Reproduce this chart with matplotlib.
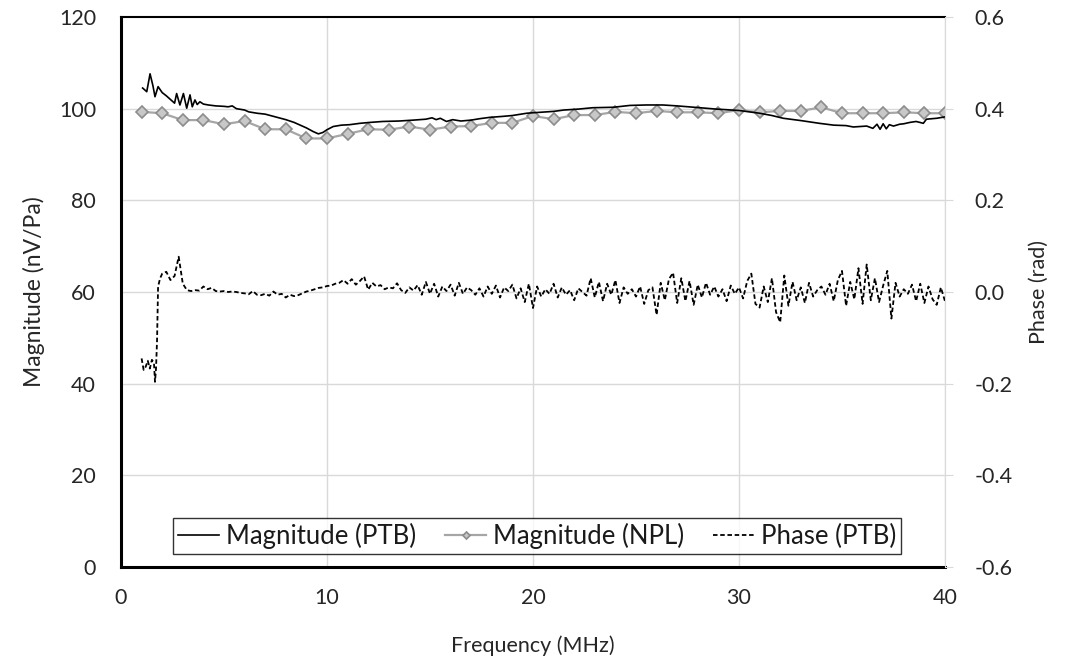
import numpy as np
from matplotlib import pyplot as plt

plt.rcParams['font.family'] = ['Lato', 'DejaVu Sans']

# PTB magnitude (nV/Pa)
ptb_freq = [1.05, 1.25, 1.41, 1.55, 1.65, 1.8, 2.0, 2.2, 2.4, 2.6, 2.7, 2.86,
            3.03, 3.19, 3.35, 3.46, 3.59, 3.7, 3.83, 4.0, 4.24, 4.6, 5.0, 5.2,
            5.4, 5.6, 6.0, 6.2, 6.6, 7.0, 7.5, 8.0, 8.4, 8.7, 9.0, 9.33, 9.58,
            9.8, 10.0, 10.3, 10.7, 11.1, 11.6, 12.1, 12.7, 13.5, 14.2, 14.8,
            15.1, 15.3, 15.5, 15.8, 16.1, 16.5, 17.0, 17.4, 17.9, 18.5, 19.0,
            19.7, 20.0, 21.0, 21.5, 22.2, 22.9, 23.9, 24.7, 25.5, 26.3, 27.0,
            28.1, 28.9, 30.0, 31.0, 31.6, 32.15, 33.0, 33.9, 34.6, 35.2, 35.55,
            36.2, 36.5, 36.7, 36.85, 37.0, 37.15, 37.3, 37.5, 37.8, 38.0, 38.3,
            38.6, 38.95, 39.1, 39.6, 40.0]
ptb_mag = [104.5, 103.7, 107.6, 105.0, 102.6, 104.8, 103.5, 102.8, 102.0, 101.2,
           103.3, 100.8, 103.3, 100.1, 103.0, 100.4, 101.9, 100.9, 101.5, 101.0,
           100.8, 100.6, 100.5, 100.4, 100.6, 100.0, 99.7, 99.3, 99.0, 98.8,
           98.2, 97.6, 97.0, 96.4, 95.8, 95.0, 94.5, 94.8, 95.4, 96.1, 96.4,
           96.5, 96.8, 97.0, 97.2, 97.3, 97.5, 97.7, 98.0, 97.6, 97.9, 97.2,
           97.6, 97.3, 97.5, 97.8, 98.1, 98.3, 98.5, 99.0, 99.1, 99.4, 99.7,
           99.9, 100.2, 100.3, 100.7, 100.8, 100.8, 100.6, 100.2, 99.9, 99.6,
           99.0, 98.5, 97.9, 97.4, 96.8, 96.4, 96.3, 96.0, 96.2, 95.7, 96.6,
           95.5, 96.7, 95.6, 96.5, 96.2, 96.6, 96.7, 97.0, 97.2, 96.8, 97.7,
           97.9, 98.2]

# NPL magnitude, one point per MHz
npl_freq = list(range(1, 41))
npl_mag = [99.3, 99.0, 97.5, 97.5, 96.6, 97.3, 95.5, 95.5, 93.5, 93.5,
           94.5, 95.5, 95.4, 96.1, 95.4, 96.1, 96.2, 96.9, 96.9, 98.4,
           97.7, 98.6, 98.6, 99.3, 99.0, 99.5, 99.2, 99.2, 99.0, 99.7,
           99.2, 99.5, 99.5, 100.3, 99.0, 99.0, 99.0, 99.2, 99.0, 99.0]

# PTB phase (rad)
phase_freq_start = [1.0, 1.1, 1.2, 1.3, 1.4, 1.5, 1.6, 1.65, 1.7, 1.75, 1.8, 1.9, 2.0]
phase_start = [-0.145, -0.17, -0.163, -0.15, -0.167, -0.148, -0.155, -0.196,
               -0.167, -0.105, 0.012, 0.030, 0.040]
phase_rest = [
    # 2.2 - 3.2
    0.044, 0.026, 0.035, 0.077, 0.018, 0.004,
    # 3.4 - 9.0
    0.002, 0.004, 0.003, 0.012, 0.006, 0.009, 0.002, 0.001, 0.002, 0.0,
    0.001, 0.0, -0.002, -0.003, -0.005, 0.002, -0.006, -0.007, -0.004, -0.008,
    0.001, -0.006, -0.004, -0.012, -0.006, -0.009, -0.007, -0.003, 0.001,
    # 9.2 - 13.4
    0.003, 0.006, 0.009, 0.010, 0.013, 0.014, 0.018, 0.020, 0.026, 0.018,
    0.028, 0.016, 0.024, 0.034, 0.005, 0.020, 0.012, 0.015, 0.006, 0.010,
    0.008, 0.019,
    # 13.6 - 20.0
    0.004, -0.002, 0.010, 0.003, 0.015, -0.006, 0.022, -0.004, 0.018, -0.010,
    0.012, 0.002, 0.016, -0.008, 0.020, -0.004, 0.010, 0.004, -0.006, 0.008,
    -0.010, 0.012, -0.004, 0.014, -0.012, 0.010, 0.002, 0.016, -0.014, 0.008,
    -0.022, 0.018, -0.035,
    # 20.2 - 26.0
    0.012, -0.010, 0.006, -0.004, 0.018, -0.012, 0.010, -0.006, 0.004, -0.018,
    0.008, 0.000, -0.008, 0.030, -0.012, 0.022, -0.020, 0.018, -0.006, 0.026,
    -0.024, 0.010, -0.004, 0.006, -0.010, 0.012, -0.026, 0.004, 0.010, -0.050,
    # 26.2 - 32.0
    0.020, -0.018, 0.028, 0.042, -0.024, 0.030, -0.020, 0.024, -0.028, 0.016,
    -0.012, 0.020, -0.006, 0.012, -0.010, 0.006, -0.020, 0.014, -0.004, 0.010,
    -0.014, 0.024, 0.040, -0.026, -0.034, 0.012, -0.022, 0.030, -0.044, -0.066,
    # 32.2 - 40.0
    0.036, -0.030, 0.022, -0.018, 0.010, -0.024, 0.020, -0.010, 0.004, 0.012,
    -0.006, 0.018, -0.020, 0.026, 0.046, -0.030, 0.022, -0.016, 0.052, -0.026,
    0.060, -0.018, 0.030, -0.022, 0.014, 0.046, -0.058, 0.020, -0.010, 0.006,
    -0.004, 0.016, -0.020, 0.018, -0.024, 0.012, -0.016, -0.028, 0.010, -0.020,
]
phase_freq = phase_freq_start + list(np.round(np.arange(2.2, 40.01, 0.2), 1))
phase = phase_start + phase_rest

fig = plt.figure(figsize=(10.68, 6.71), dpi=100)
ax = fig.add_axes([0.1133, 0.155, 0.7715, 0.8197])
ax2 = ax.twinx()

grid_c = '#d9d9d9'
for x in [10, 20, 30, 40]:
    ax.axvline(x, color=grid_c, lw=1, zorder=0)
for y in [20, 40, 60, 80, 100]:
    ax.axhline(y, color=grid_c, lw=1, zorder=0)

l1, = ax.plot(ptb_freq, ptb_mag, color='black', lw=1.2, label='Magnitude (PTB)', zorder=3)
l2, = ax.plot(npl_freq, npl_mag, color='#a6a6a6', lw=1.6, marker='D', ms=6,
              mfc='#c8c8c8', mec='#8c8c8c', mew=1.2, label='Magnitude (NPL)', zorder=2)
l3, = ax2.plot(phase_freq, phase, color='black', lw=1.3, ls=(0, (2.5, 1.5)),
               label='Phase (PTB)', zorder=3)

ax.set_xlim(0, 40)
ax.set_ylim(0, 120)
ax2.set_ylim(-0.6, 0.6)
ax.set_xticks([0, 10, 20, 30, 40])
ax.set_yticks([0, 20, 40, 60, 80, 100, 120])
ax2.set_yticks([-0.6, -0.4, -0.2, 0.0, 0.2, 0.4, 0.6])
ax2.set_yticklabels(['-0.6', '-0.4', '-0.2', '0.0', '0.2', '0.4', '0.6'])

for a in (ax, ax2):
    for s in a.spines.values():
        s.set_visible(False)
ax.spines['left'].set_visible(True)
ax.spines['bottom'].set_visible(True)
ax.spines['top'].set_visible(True)
ax.spines['left'].set_linewidth(2.2)
ax.spines['bottom'].set_linewidth(2.2)
ax.spines['top'].set_linewidth(1.5)
ax2.spines['right'].set_visible(True)
ax2.spines['right'].set_color(grid_c)

ax.tick_params(axis='both', length=0, labelsize=15.5, colors='#262626')
ax.tick_params(axis='y', pad=18)
ax.tick_params(axis='x', pad=15)
ax2.tick_params(axis='y', length=6, color=grid_c, labelsize=15.5, labelcolor='#262626', pad=15)

ax.set_xlabel('Frequency (MHz)', fontsize=15.5, labelpad=20, color='#262626')
ax.set_ylabel('Magnitude (nV/Pa)', fontsize=16.5, labelpad=10, color='#262626')
ax2.set_ylabel('Phase (rad)', fontsize=15.5, labelpad=12, color='#262626')

leg = ax2.legend(handles=[l1, l2, l3], loc='lower center', bbox_to_anchor=(0.505, 0.0),
                 ncol=3, fontsize=18.5, frameon=True, fancybox=False,
                 handlelength=1.6, handletextpad=0.25, columnspacing=1.15,
                 borderpad=0.2, borderaxespad=0.5, markerscale=0.6)
leg.get_frame().set_edgecolor('black')
leg.get_frame().set_linewidth(1.0)
for t in leg.get_texts():
    t.set_color('#1a1a1a')

fig.savefig('out.png', dpi=100)
